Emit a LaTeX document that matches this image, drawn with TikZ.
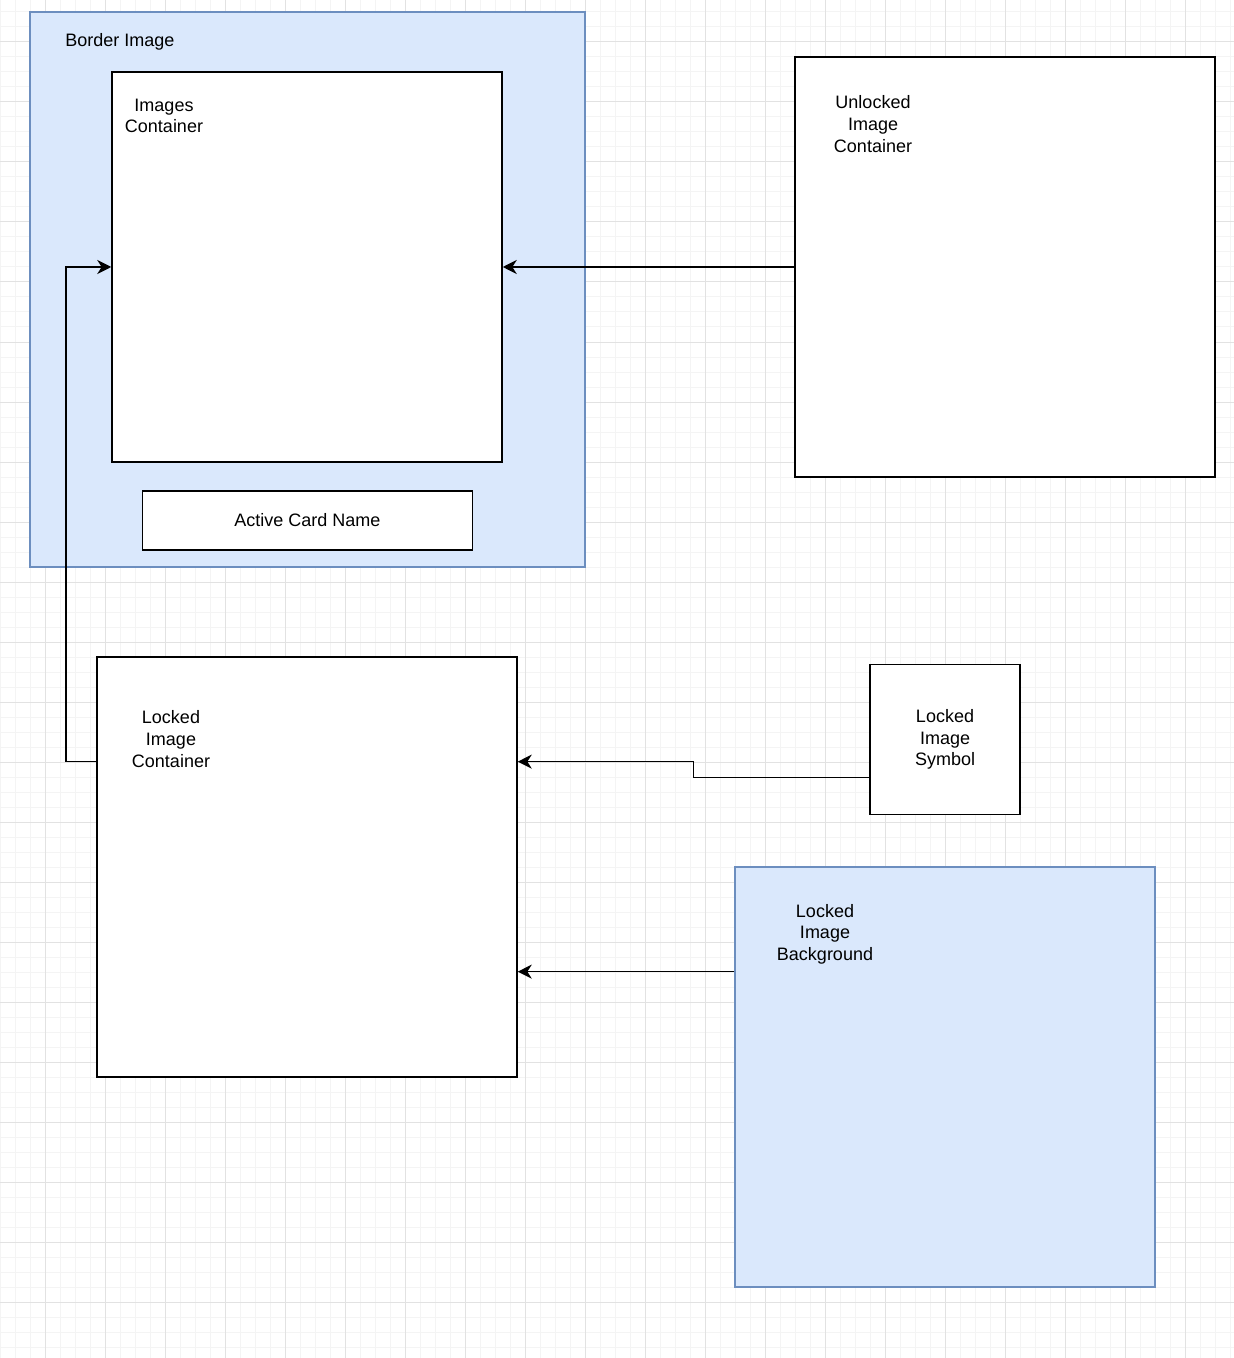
\documentclass[tikz,border=0pt]{standalone}
\usepackage{fontspec}
\setmainfont{Liberation Sans}
\usepackage{xcolor}
\usepackage{tikz}
\usetikzlibrary{positioning}
\usetikzlibrary{calc}
\usetikzlibrary{arrows.meta}
\definecolor{bluefill}{HTML}{DAE8FC}
\definecolor{blueline}{HTML}{6C8EBF}
\definecolor{gridmajor}{HTML}{E2E2E2}
\definecolor{gridminor}{HTML}{F4F4F4}

\begin{document}
\begin{tikzpicture}[x=0.5pt,y=-0.5pt,inner sep=0pt,
		font=\fontsize{9}{10.8}\selectfont,
		box/.style={draw,line width=0.75pt,fill=white,minimum width=#1,minimum height=#1},
		bluebox/.style={box=#1,draw=blueline,fill=bluefill},
		label/.style={align=center},
		link/.style={line width=0.8pt,-{Stealth[length=7pt,width=7pt,inset=2.2pt]}}]
		\useasboundingbox (0,0) rectangle (1234,1358);
		\fill[white] (0,0) rectangle (1234,1358);
		% grid
		\foreach \x in {0,15,...,1230}
			\draw[gridminor,line width=0.5pt] (\x,0) -- (\x,1358);
		\foreach \y in {12,27,...,1357}
			\draw[gridminor,line width=0.5pt] (0,\y) -- (1234,\y);
		\foreach \x in {45,105,...,1230}
			\draw[gridmajor,line width=0.5pt] (\x,0) -- (\x,1358);
		\foreach \y in {42,102,...,1357}
			\draw[gridmajor,line width=0.5pt] (0,\y) -- (1234,\y);
		% boxes
		\node [bluebox=277.5pt] (border) at (307.5,289.5) {};
		\node [label] (borderlbl) at (120,41.5) {Border Image};
		\node [box=195pt] (imgs) at (307,267) {};
		\node [label] (imgslbl) at (164,116) {Images\\Container};
		\node [box=29.5pt,minimum width=165pt] (active) at (307.5,520.5) {Active Card Name};
		\node [box=210pt] (unlocked) at (1005,267) {};
		\node [label] (unlockedlbl) at (873,124) {Unlocked\\Image\\Container};
		\node [box=210pt] (locked) at (307,867) {};
		\node [label] (lockedlbl) at (171,739) {Locked\\Image\\Container};
		\node [box=75pt,align=center] (symbol) at (945,739.5) {Locked\\Image\\Symbol};
		\node [bluebox=210pt] (background) at (945,1077) {};
		\node [label] (backgroundlbl) at (825,934) {Locked\\Image\\Background};
		% connectors
		\coordinate (lockedout) at ($(locked.north west)!.25!(locked.south west)$);
		\coordinate (lockedin) at ($(locked.north east)!.25!(locked.south east)$);
		\coordinate (symbolout) at ($(symbol.north west)!.75!(symbol.south west)$);
		\coordinate (backgroundout) at ($(background.north west)!.25!(background.south west)$);
		\draw [link] (unlocked.west) -- (unlocked.west -| imgs.east);
		\draw [link] (lockedout) -- ++(-30,0) |- (imgs.west);
		\draw [link] (symbolout) -| ($(symbolout)!.5!(lockedin)$) |- (lockedin);
		\draw [link] (backgroundout) -- (backgroundout -| locked.east);
	\end{tikzpicture}
\end{document}
